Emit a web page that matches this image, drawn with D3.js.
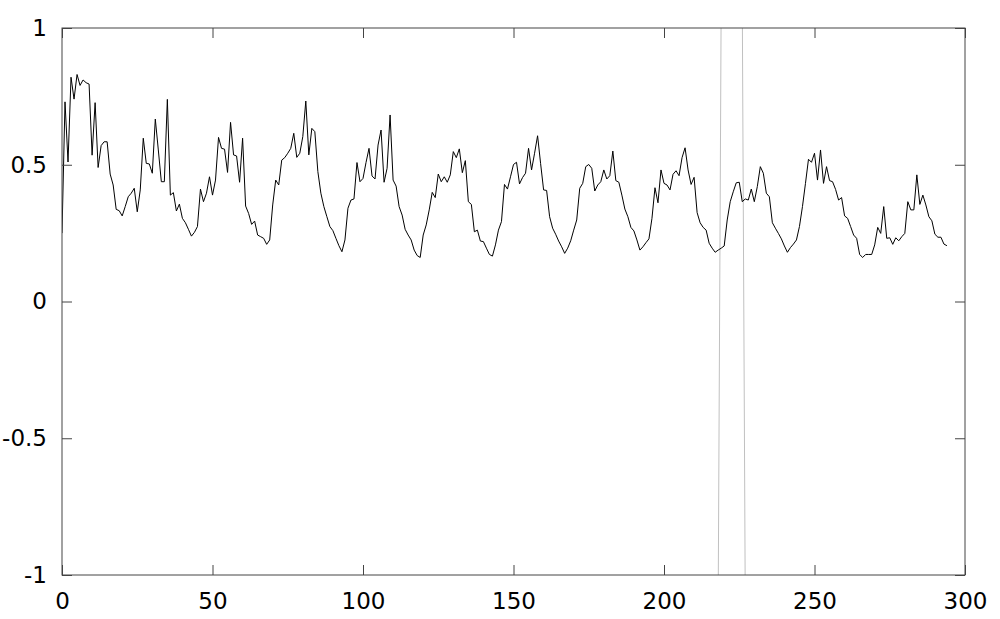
<!DOCTYPE html>
<html>
<head>
<meta charset="utf-8">
<script src="https://cdn.jsdelivr.net/npm/d3@7"></script>
<style>
  body { margin: 0; background: #fff; }
  svg { display: block; }
  .tick text { font-family: "DejaVu Sans", sans-serif; font-size: 23px; fill: #000; }
</style>
</head>
<body>
<svg id="chart" width="1000" height="619"></svg>
<script>
// black series, one value per integer step starting at 0
const values = [
  0.25, 0.73, 0.51, 0.82, 0.74, 0.83, 0.79, 0.81, 0.80, 0.795,
  0.535, 0.727, 0.49, 0.57, 0.584, 0.584, 0.466, 0.426, 0.337, 0.332,
  0.313, 0.347, 0.383, 0.396, 0.414, 0.328, 0.408, 0.597, 0.505, 0.503,
  0.469, 0.667, 0.554, 0.438, 0.438, 0.739, 0.389, 0.398, 0.331, 0.356,
  0.304, 0.288, 0.264, 0.239, 0.253, 0.274, 0.411, 0.365, 0.396, 0.456,
  0.389, 0.444, 0.600, 0.560, 0.557, 0.472, 0.655, 0.536, 0.532, 0.436,
  0.597, 0.349, 0.322, 0.282, 0.294, 0.243, 0.237, 0.231, 0.209, 0.225,
  0.353, 0.444, 0.426, 0.517, 0.526, 0.542, 0.560, 0.615, 0.527, 0.542,
  0.603, 0.733, 0.536, 0.633, 0.621, 0.475, 0.396, 0.347, 0.310, 0.274,
  0.259, 0.231, 0.204, 0.182, 0.225, 0.341, 0.371, 0.375, 0.508, 0.438,
  0.450, 0.508, 0.560, 0.459, 0.448, 0.572, 0.627, 0.436, 0.487, 0.682,
  0.444, 0.422, 0.347, 0.316, 0.264, 0.243, 0.225, 0.188, 0.168, 0.161,
  0.243, 0.280, 0.335, 0.399, 0.380, 0.466, 0.438, 0.456, 0.436, 0.463,
  0.548, 0.526, 0.558, 0.471, 0.515, 0.365, 0.355, 0.255, 0.261, 0.221,
  0.219, 0.195, 0.172, 0.166, 0.207, 0.261, 0.292, 0.428, 0.411, 0.456,
  0.501, 0.509, 0.430, 0.453, 0.469, 0.560, 0.481, 0.542, 0.606, 0.505,
  0.408, 0.406, 0.310, 0.268, 0.246, 0.221, 0.200, 0.176, 0.195, 0.222,
  0.261, 0.298, 0.414, 0.432, 0.493, 0.501, 0.487, 0.404, 0.426, 0.438,
  0.481, 0.448, 0.460, 0.550, 0.442, 0.436, 0.389, 0.338, 0.310, 0.271,
  0.258, 0.225, 0.188, 0.200, 0.215, 0.229, 0.304, 0.416, 0.361, 0.481,
  0.432, 0.426, 0.408, 0.465, 0.478, 0.460, 0.526, 0.562, 0.481, 0.428,
  0.454, 0.325, 0.288, 0.271, 0.261, 0.213, 0.195, 0.180, 0.188, 0.195,
  0.203, 0.298, 0.365, 0.401, 0.434, 0.436, 0.365, 0.375, 0.371, 0.411,
  0.365, 0.420, 0.493, 0.469, 0.396, 0.383, 0.288, 0.268, 0.249, 0.229,
  0.203, 0.180, 0.197, 0.210, 0.225, 0.274, 0.347, 0.432, 0.520, 0.509,
  0.542, 0.444, 0.554, 0.432, 0.493, 0.442, 0.438, 0.410, 0.371, 0.380,
  0.313, 0.304, 0.274, 0.243, 0.231, 0.172, 0.161, 0.172, 0.172, 0.172,
  0.207, 0.271, 0.249, 0.347, 0.231, 0.233, 0.209, 0.233, 0.222, 0.237,
  0.249, 0.365, 0.335, 0.335, 0.463, 0.355, 0.389, 0.353, 0.310, 0.295,
  0.246, 0.235, 0.235, 0.210, 0.204
];

// gray series, goes off the chart between its points
const grayX = [218, 219, 226, 227];
const grayY = [-1.1, 1.1, 1.1, -1.1];

const xTicks = [0, 50, 100, 150, 200, 250, 300];
const yTicks = [-1, -0.5, 0, 0.5, 1];

const margin = { left: 62, right: 35, top: 28, bottom: 44 };
const width = 1000 - margin.left - margin.right;
const height = 619 - margin.top - margin.bottom;

const svg = d3.select("#chart");
const g = svg.append("g").attr("transform", `translate(${margin.left},${margin.top})`);

const x = d3.scaleLinear().domain([0, 300]).range([0, width]);
const y = d3.scaleLinear().domain([-1, 1]).range([height, 0]);

g.append("clipPath").attr("id", "clip")
  .append("rect").attr("width", width).attr("height", height);

const line = d3.line().x((d) => x(d[0])).y((d) => y(d[1]));

g.append("path")
  .datum(grayX.map((v, i) => [v, grayY[i]]))
  .attr("clip-path", "url(#clip)")
  .attr("fill", "none")
  .attr("stroke", "#c0c0c0")
  .attr("stroke-width", 1)
  .attr("d", line);

g.append("path")
  .datum(values.map((v, i) => [i, v]))
  .attr("clip-path", "url(#clip)")
  .attr("fill", "none")
  .attr("stroke", "#000")
  .attr("stroke-width", 1)
  .attr("d", line);

function styleAxis(sel, showText) {
  sel.attr("font-size", 23).attr("font-family", "DejaVu Sans");
  sel.select(".domain").remove();
  sel.selectAll(".tick line").attr("stroke", "#444");
  if (!showText) sel.selectAll(".tick text").remove();
}

const fmt = (d) => String(d);

g.append("g").attr("transform", `translate(0,${height})`)
  .call(d3.axisBottom(x).tickValues(xTicks).tickFormat(fmt).tickSize(-10).tickPadding(18))
  .call((s) => styleAxis(s, true));
g.append("g")
  .call(d3.axisTop(x).tickValues(xTicks).tickSize(-10))
  .call((s) => styleAxis(s, false));
g.append("g")
  .call(d3.axisLeft(y).tickValues(yTicks).tickFormat(fmt).tickSize(-10).tickPadding(15))
  .call((s) => styleAxis(s, true));
g.append("g").attr("transform", `translate(${width},0)`)
  .call(d3.axisRight(y).tickValues(yTicks).tickSize(-10))
  .call((s) => styleAxis(s, false));

g.append("rect")
  .attr("width", width).attr("height", height)
  .attr("fill", "none").attr("stroke", "#444").attr("stroke-width", 1);
</script>
</body>
</html>
